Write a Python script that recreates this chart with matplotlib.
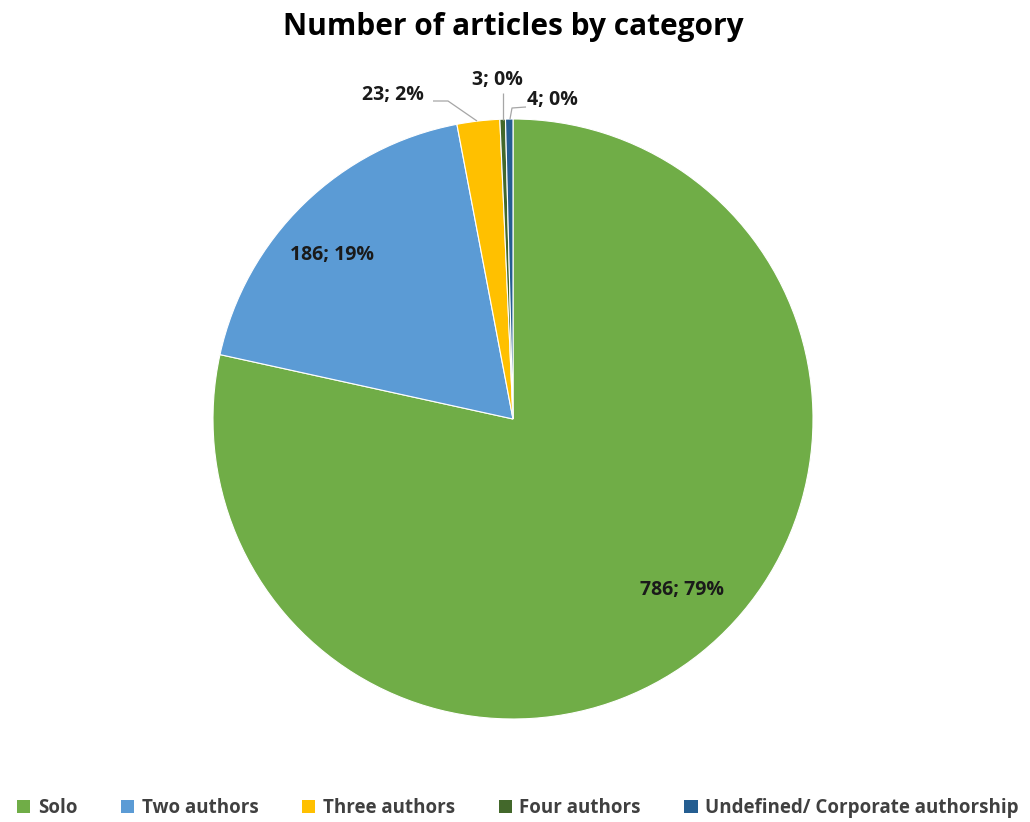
import matplotlib
matplotlib.use("Agg")
import matplotlib.pyplot as plt
from matplotlib.patches import Patch

categories = ["Solo", "Two authors", "Three authors", "Four authors", "Undefined/ Corporate authorship"]
values = [786, 186, 23, 3, 4]
percents = [79, 19, 2, 0, 0]
colors = ["#70AD47", "#5B9BD5", "#FFC000", "#43682B", "#255E91"]

plt.rcParams['font.family'] = ['Open Sans', 'DejaVu Sans']

W, H = 1030, 822
fig = plt.figure(figsize=(W / 100, H / 100), dpi=100)
cx, cy, r = 513, 419, 300
half = 1.5 * r
ax = fig.add_axes([(cx - half) / W, (H - cy - half) / H, 2 * half / W, 2 * half / H])
wedges, _ = ax.pie(values, colors=colors, startangle=90, counterclock=False,
                   radius=1, wedgeprops=dict(edgecolor="white", linewidth=0.8))
ax.set_xlim(-1.5, 1.5)
ax.set_ylim(-1.5, 1.5)
ax.set_aspect('equal')
ax.axis('off')

labels = [f"{v}; {p}%" for v, p in zip(values, percents)]

def px(x, y):
    return ((x - cx) / r, (cy - y) / r)

fs = 14
tc = '#1a1a1a'
ax.text(*px(682, 590), labels[0], ha='center', va='center', fontsize=fs, fontweight='bold', color=tc)
ax.text(*px(332, 255), labels[1], ha='center', va='center', fontsize=fs, fontweight='bold', color=tc)
ax.text(*px(393, 95), labels[2], ha='center', va='center', fontsize=fs, fontweight='bold', color=tc)
ax.text(*px(497, 80), labels[3], ha='center', va='center', fontsize=fs, fontweight='bold', color=tc)
ax.text(*px(552, 100), labels[4], ha='center', va='center', fontsize=fs, fontweight='bold', color=tc)

def leader(pts):
    xs, ys = zip(*[px(x, y) for x, y in pts])
    ax.plot(xs, ys, color='#a6a6a6', lw=0.9, solid_capstyle='butt')

leader([(433, 101), (448, 101), (477, 121)])
leader([(503, 93), (503, 120)])
leader([(526, 107), (512, 108), (510, 119)])

fig.text(cx / W, 1 - 27 / H, "Number of articles by category", ha='center', va='center',
         fontsize=21.5, fontweight='bold', color='#000000')

handles = [Patch(facecolor=c, edgecolor='none') for c in colors]
fig.legend(handles, categories, loc='center', bbox_to_anchor=(518 / W, 1 - 808 / H), ncol=5,
           frameon=False, handlelength=0.7, handleheight=0.75, handletextpad=0.4,
           columnspacing=2.33, prop=dict(size=13.5, weight='bold'), labelcolor='#404040')

fig.savefig("out.png", dpi=100)
